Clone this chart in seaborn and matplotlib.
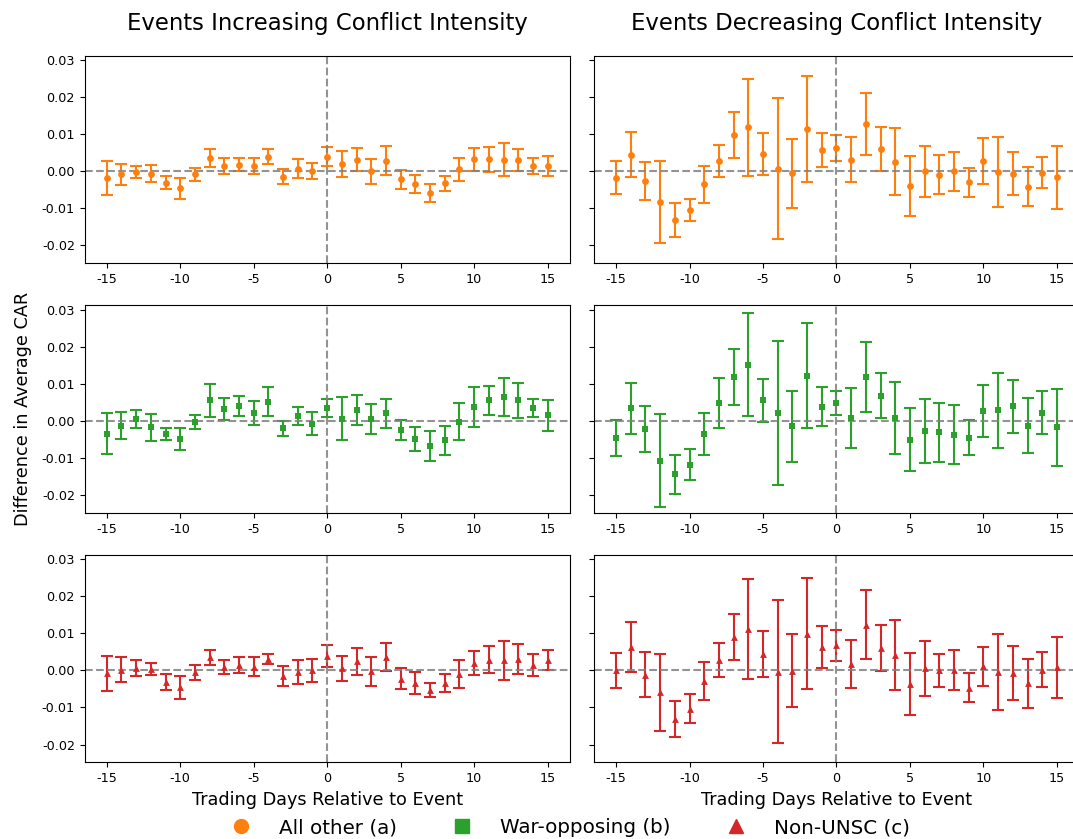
import numpy as np
import pandas as pd
import matplotlib
matplotlib.use("Agg")
import matplotlib.pyplot as plt
from matplotlib.lines import Line2D
import seaborn as sns

# Event-window days
days = list(range(-15, 16))

# Difference in average CAR and error half-widths, by group and event type
inc_other_mean = [-0.0019, -0.0008, -0.0002, -0.0006, -0.0031, -0.0046, -0.0008, 0.0035, 0.0015, 0.0018, 0.0014,
                  0.0039, -0.0015, 0.0007, 0.0001, 0.0039, 0.0019, 0.0031, 0.0000, 0.0029, -0.0022, -0.0034,
                  -0.0058, -0.0032, 0.0005, 0.0032, 0.0032, 0.0031, 0.0031, 0.0015, 0.0013]
inc_other_err = [0.0046, 0.0029, 0.0016, 0.0022, 0.0017, 0.0028, 0.0018, 0.0024, 0.0021, 0.0018, 0.0022,
                 0.0020, 0.0020, 0.0025, 0.0021, 0.0026, 0.0035, 0.0031, 0.0033, 0.0040, 0.0025, 0.0024,
                 0.0025, 0.0020, 0.0031, 0.0031, 0.0033, 0.0045, 0.0030, 0.0021, 0.0027]

dec_other_mean = [-0.0017, 0.0045, -0.0026, -0.0083, -0.0131, -0.0105, -0.0035, 0.0027, 0.0099, 0.0119, 0.0047,
                  0.0007, -0.0005, 0.0114, 0.0058, 0.0063, 0.0031, 0.0128, 0.0060, 0.0026, -0.0040, 0.0000,
                  -0.0009, 0.0000, -0.0030, 0.0028, -0.0002, -0.0006, -0.0041, -0.0004, -0.0016]
dec_other_err = [0.0045, 0.0061, 0.0051, 0.0111, 0.0045, 0.0030, 0.0050, 0.0043, 0.0062, 0.0131, 0.0057,
                 0.0190, 0.0093, 0.0143, 0.0046, 0.0035, 0.0061, 0.0084, 0.0059, 0.0090, 0.0081, 0.0068,
                 0.0052, 0.0052, 0.0039, 0.0061, 0.0094, 0.0059, 0.0053, 0.0042, 0.0085]

inc_war_mean = [-0.0035, -0.0013, 0.0004, -0.0018, -0.0035, -0.0050, -0.0003, 0.0055, 0.0031, 0.0039, 0.0022,
                0.0052, -0.0020, 0.0014, -0.0008, 0.0034, 0.0006, 0.0029, 0.0005, 0.0020, -0.0026, -0.0049,
                -0.0068, -0.0052, -0.0002, 0.0036, 0.0055, 0.0064, 0.0055, 0.0035, 0.0015]
inc_war_err = [0.0055, 0.0036, 0.0024, 0.0036, 0.0016, 0.0030, 0.0019, 0.0045, 0.0030, 0.0027, 0.0032,
               0.0038, 0.0020, 0.0024, 0.0031, 0.0025, 0.0057, 0.0041, 0.0041, 0.0039, 0.0027, 0.0033,
               0.0040, 0.0039, 0.0050, 0.0054, 0.0039, 0.0052, 0.0047, 0.0025, 0.0042]

dec_war_mean = [-0.0046, 0.0034, -0.0023, -0.0107, -0.0144, -0.0118, -0.0036, 0.0048, 0.0119, 0.0151, 0.0055,
                0.0022, -0.0015, 0.0122, 0.0038, 0.0049, 0.0007, 0.0119, 0.0068, 0.0008, -0.0051, -0.0028,
                -0.0031, -0.0037, -0.0046, 0.0027, 0.0029, 0.0039, -0.0013, 0.0022, -0.0018]
dec_war_err = [0.0049, 0.0069, 0.0062, 0.0126, 0.0053, 0.0042, 0.0057, 0.0067, 0.0075, 0.0139, 0.0058,
               0.0194, 0.0096, 0.0142, 0.0052, 0.0032, 0.0081, 0.0094, 0.0061, 0.0098, 0.0085, 0.0087,
               0.0080, 0.0080, 0.0047, 0.0070, 0.0101, 0.0071, 0.0074, 0.0058, 0.0105]

inc_nonunsc_mean = [-0.0008, 0.0002, 0.0006, 0.0004, -0.0031, -0.0046, -0.0005, 0.0035, 0.0009, 0.0014, 0.0010,
                    0.0030, -0.0016, -0.0004, 0.0000, 0.0038, 0.0006, 0.0024, -0.0003, 0.0036, -0.0022, -0.0035,
                    -0.0053, -0.0035, -0.0010, 0.0020, 0.0029, 0.0027, 0.0030, 0.0014, 0.0028]
inc_nonunsc_err = [0.0048, 0.0034, 0.0022, 0.0017, 0.0021, 0.0032, 0.0020, 0.0021, 0.0019, 0.0021, 0.0025,
                   0.0014, 0.0027, 0.0032, 0.0031, 0.0030, 0.0034, 0.0036, 0.0039, 0.0039, 0.0027, 0.0030,
                   0.0019, 0.0024, 0.0038, 0.0032, 0.0037, 0.0053, 0.0040, 0.0029, 0.0028]

dec_nonunsc_mean = [0.0000, 0.0063, -0.0012, -0.0059, -0.0131, -0.0103, -0.0029, 0.0027, 0.0089, 0.0111, 0.0044,
                    -0.0004, -0.0001, 0.0099, 0.0062, 0.0067, 0.0017, 0.0123, 0.0060, 0.0041, -0.0037, 0.0005,
                    0.0000, 0.0001, -0.0047, 0.0011, -0.0004, -0.0007, -0.0035, 0.0002, 0.0008]
dec_nonunsc_err = [0.0048, 0.0068, 0.0061, 0.0104, 0.0049, 0.0039, 0.0051, 0.0046, 0.0062, 0.0135, 0.0061,
                   0.0193, 0.0099, 0.0149, 0.0057, 0.0043, 0.0064, 0.0093, 0.0062, 0.0095, 0.0083, 0.0075,
                   0.0045, 0.0053, 0.0039, 0.0052, 0.0103, 0.0073, 0.0066, 0.0047, 0.0083]

group_labels = ["All other (a)", "War-opposing (b)", "Non-UNSC (c)"]
column_titles = ["Events Increasing Conflict Intensity", "Events Decreasing Conflict Intensity"]
x_ticks = [-15, -10, -5, 0, 5, 10, 15]
y_ticks = [-0.02, -0.01, 0.00, 0.01, 0.02, 0.03]

group_colors = ["#ff7f0e", "#2ca02c", "#d62728"]
group_markers = ["o", "s", "^"]

series = [
    [(inc_other_mean, inc_other_err), (dec_other_mean, dec_other_err)],
    [(inc_war_mean, inc_war_err), (dec_war_mean, dec_war_err)],
    [(inc_nonunsc_mean, inc_nonunsc_err), (dec_nonunsc_mean, dec_nonunsc_err)],
]

frames = []
for g, row in enumerate(series):
    for c, (m, e) in enumerate(row):
        frames.append(pd.DataFrame({"day": days, "car": m, "err": e,
                                    "group": group_labels[g], "row": g, "col": c}))
df = pd.concat(frames, ignore_index=True)

plt.rcParams["axes.unicode_minus"] = False
plt.rcParams["font.family"] = ["DejaVu Sans"]

fig, axes = plt.subplots(3, 2, figsize=(10.73, 8.39), dpi=100, sharey=True)
fig.subplots_adjust(left=0.0789, right=1.0056, top=0.9333, bottom=0.0914,
                    wspace=0.050, hspace=0.2036)

for g in range(3):
    for c in range(2):
        ax = axes[g, c]
        sub = df[(df["row"] == g) & (df["col"] == c)]
        ax.errorbar(sub["day"], sub["car"], yerr=sub["err"], fmt="none",
                    ecolor=group_colors[g], elinewidth=1.5, capsize=4, capthick=1.5, zorder=2)
        ax.axhline(0, color="gray", linestyle="--", linewidth=1.5, alpha=0.85, zorder=2.5)
        ax.axvline(0, color="gray", linestyle="--", linewidth=1.5, alpha=0.85, zorder=2.5)
        sns.scatterplot(data=sub, x="day", y="car", color=group_colors[g],
                        marker=group_markers[g], s=24, linewidth=0, ax=ax,
                        zorder=3, legend=False)
        ax.set_xlim(-16.5, 16.5)
        ax.set_ylim(-0.0248, 0.0311)
        ax.set_xticks(x_ticks)
        ax.set_xticklabels([str(t) for t in x_ticks])
        ax.set_yticks(y_ticks)
        ax.set_yticklabels([f"{t:.2f}" for t in y_ticks])
        ax.tick_params(labelsize=9.2)
        ax.set_xlabel("")
        ax.set_ylabel("")
        if g == 0:
            ax.set_title(column_titles[c], fontsize=16.4, pad=19)
        if g == 2:
            ax.set_xlabel("Trading Days Relative to Event", fontsize=12.7)

fig.text(0.0215, 0.513, "Difference in Average CAR", rotation=90,
         ha="center", va="center", fontsize=12.7)

handles = [Line2D([], [], linestyle="none", marker=mk, color=col, markersize=10)
           for mk, col in zip(group_markers, group_colors)]
fig.legend(handles, group_labels, loc="center", bbox_to_anchor=(0.527, 0.0135),
           ncol=3, frameon=False, fontsize=14.3, columnspacing=2.3, handletextpad=0.9)

fig.savefig("out.png", dpi=100)
